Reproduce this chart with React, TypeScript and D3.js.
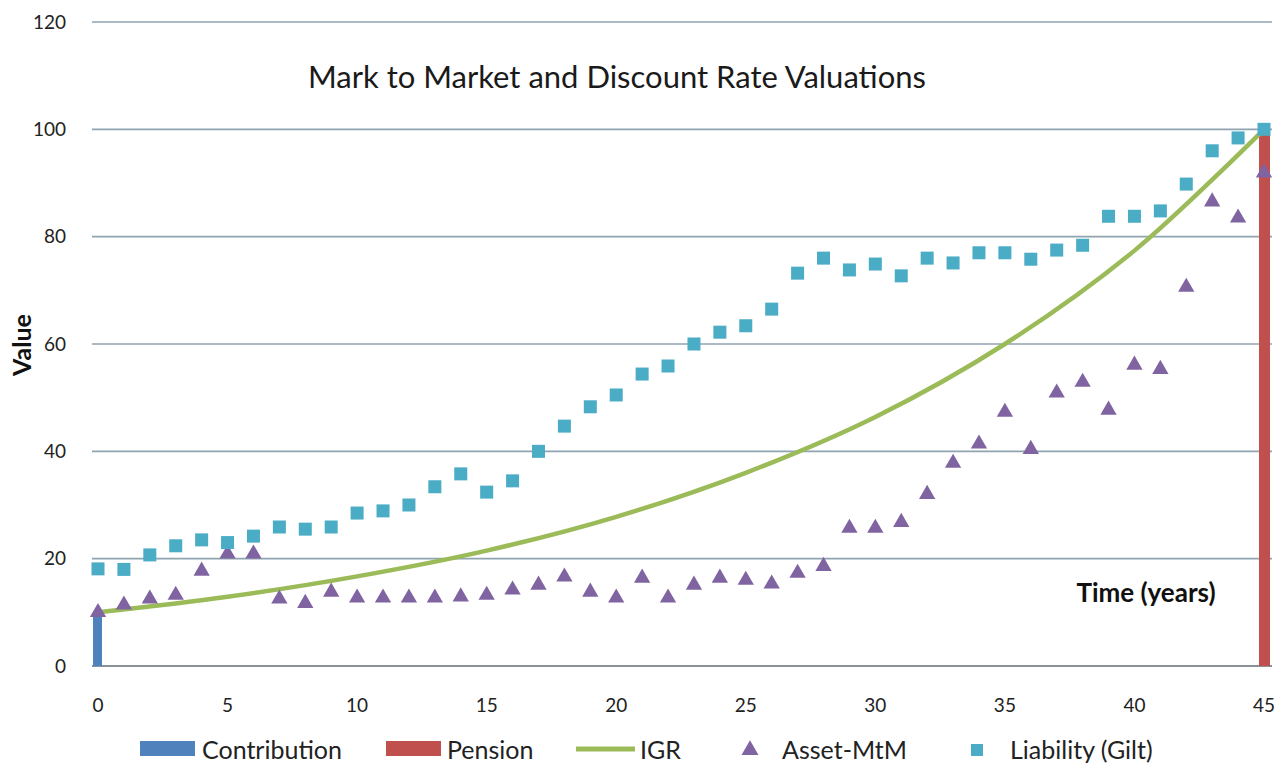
import React from 'react';
import * as d3 from 'd3';

// Chart data
const years = d3.range(0, 46);
const liability = [
  18.1, 18, 20.7, 22.4, 23.5, 23, 24.2, 25.9, 25.5, 25.9,
  28.5, 28.9, 30, 33.4, 35.8, 32.4, 34.5, 40, 44.7, 48.3,
  50.5, 54.4, 55.9, 60, 62.2, 63.4, 66.5, 73.2, 76, 73.8,
  74.9, 72.7, 76, 75.1, 77, 77, 75.8, 77.5, 78.4, 83.8,
  83.8, 84.8, 89.8, 96, 98.4, 100,
];
const asset = [
  10, 11.4, 12.5, 13.2, 17.7, 20.9, 20.9, 12.5, 11.7, 13.8,
  12.7, 12.7, 12.7, 12.7, 12.9, 13.2, 14.2, 15.1, 16.6, 13.8,
  12.7, 16.4, 12.7, 15.1, 16.4, 16, 15.3, 17.3, 18.6, 25.7,
  25.7, 26.8, 32, 37.8, 41.4, 47.3, 40.4, 50.9, 52.9, 47.7,
  56.1, 55.3, 70.6, 86.5, 83.5, 91.9,
];
const igrYears = [0, 5, 10, 15, 20, 25, 30, 35, 40, 45];
const igrValues = [10, 12.9, 16.7, 21.5, 27.8, 36, 46.4, 60, 77.4, 100];
const contribution = [{ year: 0, value: 10 }];
const pension = [{ year: 45, value: 100 }];
const yTicks = [0, 20, 40, 60, 80, 100, 120];
const xTicks = [0, 5, 10, 15, 20, 25, 30, 35, 40, 45];

const W = 1281;
const H = 765;
const FONT = 'Lato, "Open Sans", sans-serif';

const C_BLUE = '#4F81BD';
const C_RED = '#C0504D';
const C_GREEN = '#9BBB59';
const C_PURPLE = '#8064A2';
const C_AQUA = '#4BACC6';

export default function App() {
  const x = d3.scaleLinear().domain([0, 45]).range([98, 1264]);
  const y = d3.scaleLinear().domain([0, 120]).range([666, 22]);

  const igrLine = d3
    .line<number>()
    .x((d, i) => x(igrYears[i]))
    .y((d) => y(d))
    .curve(d3.curveCatmullRom.alpha(0.5));

  const tri = d3.symbol().type(d3.symbolTriangle).size(115)();
  const triLegend = d3.symbol().type(d3.symbolTriangle).size(125)();

  return (
    <svg
      width={W}
      height={H}
      style={{ position: 'absolute', left: 0, top: 0, background: '#fff' }}
      fontFamily={FONT}
    >
      {/* grid */}
      {yTicks.map((t) => (
        <g key={t}>
          <line
            x1={92}
            x2={1272}
            y1={y(t)}
            y2={y(t)}
            stroke={t === 0 ? '#8a9299' : '#8fa3b1'}
            strokeWidth={t === 0 ? 2 : 1.6}
          />
          <text
            x={66}
            y={y(t)}
            dy="0.35em"
            textAnchor="end"
            fontSize={19}
            fill="#222"
          >
            {t}
          </text>
        </g>
      ))}

      {/* x tick labels */}
      {xTicks.map((t) => (
        <text
          key={t}
          x={x(t)}
          y={705}
          dy="0.35em"
          textAnchor="middle"
          fontSize={19}
          fill="#222"
        >
          {t}
        </text>
      ))}

      {/* title */}
      <text x={617} y={77} dy="0.35em" textAnchor="middle" fontSize={31} fill="#1a1a1a">
        Mark to Market and Discount Rate Valuations
      </text>

      {/* axis titles */}
      <text
        transform={`translate(22,345) rotate(-90)`}
        dy="0.35em"
        textAnchor="middle"
        fontSize={25}
        fontWeight="bold"
        fill="#111"
      >
        Value
      </text>
      <text x={1146} y={593} dy="0.35em" textAnchor="middle" fontSize={26} fontWeight="bold" fill="#111">
        Time (years)
      </text>

      {/* bars */}
      {contribution.map((d) => (
        <rect
          key="c"
          x={x(d.year) - 5}
          width={9}
          y={y(d.value)}
          height={y(0) - y(d.value)}
          fill={C_BLUE}
        />
      ))}
      {pension.map((d) => (
        <rect
          key="p"
          x={x(d.year) - 5}
          width={11}
          y={y(d.value)}
          height={y(0) - y(d.value)}
          fill={C_RED}
        />
      ))}

      {/* IGR curve */}
      <path d={igrLine(igrValues) || ''} fill="none" stroke={C_GREEN} strokeWidth={4.5} />

      {/* asset triangles */}
      {asset.map((v, i) => (
        <path key={`a${i}`} d={tri || ''} transform={`translate(${x(years[i])},${y(v)})`} fill={C_PURPLE} />
      ))}

      {/* liability squares */}
      {liability.map((v, i) => (
        <rect
          key={`l${i}`}
          x={x(years[i]) - 6.5}
          y={y(v) - 6.5}
          width={13}
          height={13}
          fill={C_AQUA}
        />
      ))}

      {/* legend */}
      <g fontSize={25} fill="#222">
        <rect x={140} y={741} width={55} height={15} fill={C_BLUE} />
        <text x={202} y={750} dy="0.35em">Contribution</text>
        <rect x={386} y={741} width={55} height={15} fill={C_RED} />
        <text x={447} y={750} dy="0.35em">Pension</text>
        <line x1={576} x2={635} y1={749} y2={749} stroke={C_GREEN} strokeWidth={5} />
        <text x={640} y={750} dy="0.35em">IGR</text>
        <path d={triLegend || ''} transform="translate(750,750)" fill={C_PURPLE} />
        <text x={782} y={750} dy="0.35em">Asset-MtM</text>
        <rect x={971} y={744} width={12} height={12} fill={C_AQUA} />
        <text x={1010} y={750} dy="0.35em">Liability (Gilt)</text>
      </g>
    </svg>
  );
}
